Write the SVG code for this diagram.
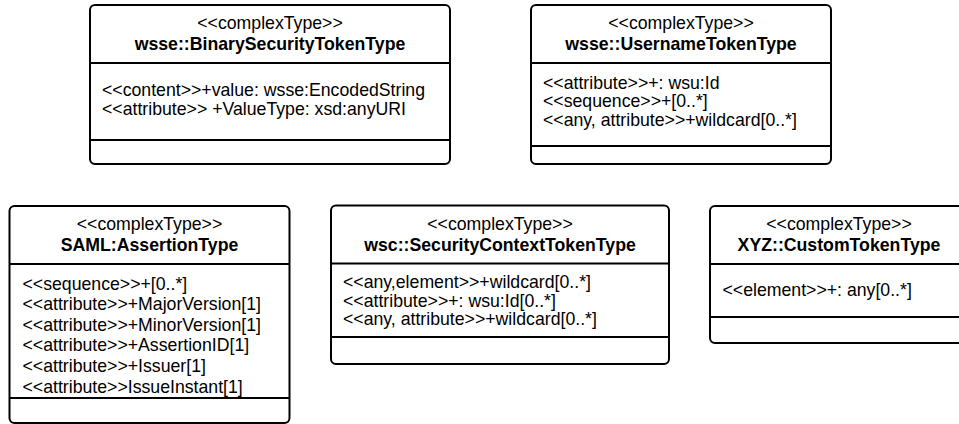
<svg xmlns="http://www.w3.org/2000/svg" width="959" height="424" viewBox="0 0 959 424">
  <style>
    .box { fill: #ffffff; stroke: #000000; stroke-width: 2; }
    .sep { stroke: #000000; stroke-width: 2; fill: none; }
    text { font-family: "Liberation Sans", Arial, sans-serif; font-size: 17.7px; fill: #000000; }
    .stereo { text-anchor: middle; }
    .title { text-anchor: middle; font-weight: bold; }
  </style>

  <!-- wsse::BinarySecurityTokenType -->
  <g id="binary-security-token">
    <rect class="box" x="90" y="5" width="360" height="159" rx="5"/>
    <line class="sep" x1="90" y1="63" x2="450" y2="63"/>
    <line class="sep" x1="90" y1="140" x2="450" y2="140"/>
    <text class="stereo" x="270" y="28.5">&lt;&lt;complexType&gt;&gt;</text>
    <text class="title" x="270" y="49.5">wsse::BinarySecurityTokenType</text>
    <text x="102" y="96">&lt;&lt;content&gt;&gt;+value: wsse:EncodedString</text>
    <text x="102" y="115">&lt;&lt;attribute&gt;&gt; +ValueType: xsd:anyURI</text>
  </g>

  <!-- wsse::UsernameTokenType -->
  <g id="username-token">
    <rect class="box" x="531" y="5" width="300" height="159" rx="5"/>
    <line class="sep" x1="531" y1="63" x2="831" y2="63"/>
    <line class="sep" x1="531" y1="146" x2="831" y2="146"/>
    <text class="stereo" x="681" y="28.5">&lt;&lt;complexType&gt;&gt;</text>
    <text class="title" x="681" y="49.5">wsse::UsernameTokenType</text>
    <text x="543" y="88.5">&lt;&lt;attribute&gt;&gt;+: wsu:Id</text>
    <text x="543" y="107.3">&lt;&lt;sequence&gt;&gt;+[0..*]</text>
    <text x="543" y="126">&lt;&lt;any, attribute&gt;&gt;+wildcard[0..*]</text>
  </g>

  <!-- SAML:AssertionType -->
  <g id="saml-assertion">
    <rect class="box" x="9.5" y="206" width="280" height="217" rx="5"/>
    <line class="sep" x1="9.5" y1="264" x2="289.5" y2="264"/>
    <line class="sep" x1="9.5" y1="398" x2="289.5" y2="398"/>
    <text class="stereo" x="149.5" y="229.5">&lt;&lt;complexType&gt;&gt;</text>
    <text class="title" x="149.5" y="250.5">SAML:AssertionType</text>
    <text x="22.5" y="289.5">&lt;&lt;sequence&gt;&gt;+[0..*]</text>
    <text x="22.5" y="310.1">&lt;&lt;attribute&gt;&gt;+MajorVersion[1]</text>
    <text x="22.5" y="330.7">&lt;&lt;attribute&gt;&gt;+MinorVersion[1]</text>
    <text x="22.5" y="351.3">&lt;&lt;attribute&gt;&gt;+AssertionID[1]</text>
    <text x="22.5" y="371.9">&lt;&lt;attribute&gt;&gt;+Issuer[1]</text>
    <text x="22.5" y="392.5">&lt;&lt;attribute&gt;&gt;IssueInstant[1]</text>
  </g>

  <!-- wsc::SecurityContextTokenType -->
  <g id="security-context-token">
    <rect class="box" x="331" y="205.5" width="338" height="158.5" rx="5"/>
    <line class="sep" x1="331" y1="263.5" x2="669" y2="263.5"/>
    <line class="sep" x1="331" y1="337" x2="669" y2="337"/>
    <text class="stereo" x="500" y="229.5">&lt;&lt;complexType&gt;&gt;</text>
    <text class="title" x="500" y="250.5">wsc::SecurityContextTokenType</text>
    <text x="343" y="288">&lt;&lt;any,element&gt;&gt;+wildcard[0..*]</text>
    <text x="343" y="306.5">&lt;&lt;attribute&gt;&gt;+: wsu:Id[0..*]</text>
    <text x="343" y="325">&lt;&lt;any, attribute&gt;&gt;+wildcard[0..*]</text>
  </g>

  <!-- XYZ::CustomTokenType -->
  <g id="custom-token">
    <rect class="box" x="710" y="206" width="258" height="137" rx="5"/>
    <line class="sep" x1="710" y1="264" x2="968" y2="264"/>
    <line class="sep" x1="710" y1="317" x2="968" y2="317"/>
    <text class="stereo" x="839" y="229.5">&lt;&lt;complexType&gt;&gt;</text>
    <text class="title" x="839" y="250.5">XYZ::CustomTokenType</text>
    <text x="722.5" y="296">&lt;&lt;element&gt;&gt;+: any[0..*]</text>
  </g>

  <!-- no connectors between these types -->
  <g id="connectors"/>
</svg>
